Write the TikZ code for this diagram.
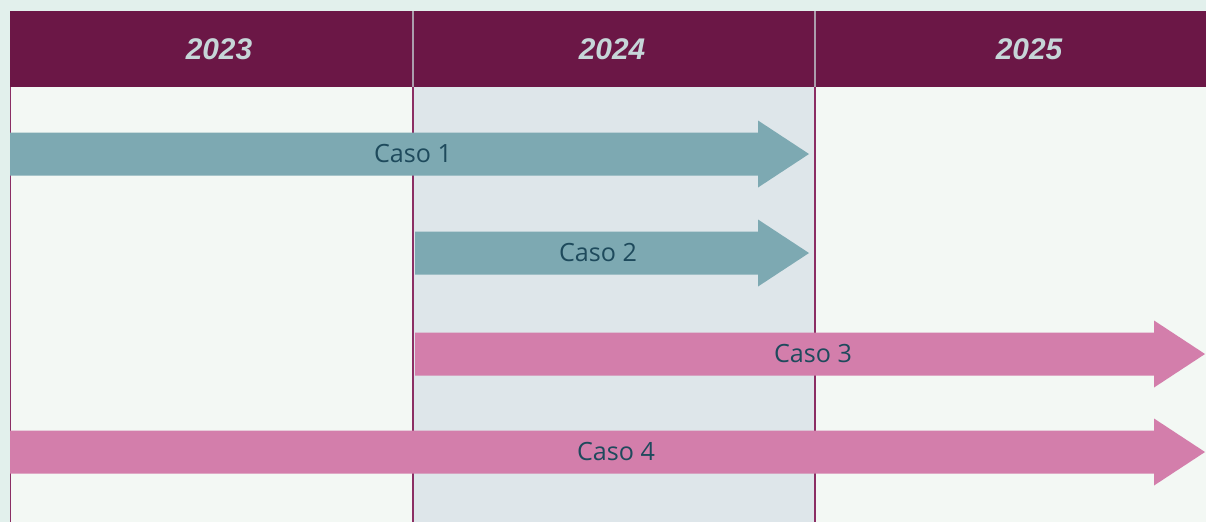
\documentclass[tikz,border=0pt]{standalone}
\usepackage{fontspec}
\setmainfont{Open Sans}
\newfontfamily\cabfont{Liberation Sans}
\definecolor{fondo}{HTML}{E2F0EC}
\definecolor{cuerpo}{HTML}{F3F8F4}
\definecolor{medio}{HTML}{DEE6EA}
\definecolor{cabecera}{HTML}{6B1746}
\definecolor{linea}{HTML}{8B2E64}
\definecolor{textocab}{HTML}{C6D6D8}
\definecolor{azul}{HTML}{7DA9B2}
\definecolor{rosa}{HTML}{D37EAB}
\definecolor{textocaso}{HTML}{1E4A5C}
\tikzset{
	anio/.style={font=\cabfont\bfseries\itshape\fontsize{17}{19}\selectfont, text=textocab},
	caso/.style={font=\fontsize{14.3}{16}\selectfont, text=textocaso, inner sep=0pt}
}
\begin{document}
\begin{tikzpicture}[x=0.02cm,y=-0.02cm]
			\def\flecha[#1](#2)(#3)(#4){
				\fill[#1](#2,#4-21.5)--(#3-51,#4-21.5)--(#3-51,#4-33.5)--(#3,#4)--(#3-51,#4+33.5)--(#3-51,#4+21.5)--(#2,#4+21.5)--cycle;}
			\useasboundingbox (0,0) rectangle (1206,522);
			\fill[fondo] (0,0) rectangle (1206,522);
			\fill[cuerpo] (10,87) rectangle (1206,522);
			\fill[medio] (413,87) rectangle (815,522);
			\fill[cabecera] (10,11) rectangle (1206,87);
			\foreach \x in {413,815}{\draw[textocab!70!cabecera, line width=0.6pt] (\x,11)--(\x,87);}
			\foreach \x in {413,815}{\draw[linea, line width=0.7pt] (\x,87)--(\x,522);}
			\draw[linea, line width=1.1pt] (10.5,87)--(10.5,522);
			\node[anio] (y2023) at (219,49) {2023};
			\node[anio] (y2024) at (612,49) {2024};
			\node[anio] (y2025) at (1029,49) {2025};
			\flecha[azul](10)(809)(154)
			\flecha[azul](415)(809)(253)
			\flecha[rosa](415)(1205)(354)
			\flecha[rosa](10)(1205)(452)
			\node[caso] (caso1) at (413,154) {Caso 1};
			\node[caso] (caso2) at (598,253) {Caso 2};
			\node[caso] (caso3) at (813,354) {Caso 3};
			\node[caso] (caso4) at (616,452) {Caso 4};
		\end{tikzpicture}
\end{document}
